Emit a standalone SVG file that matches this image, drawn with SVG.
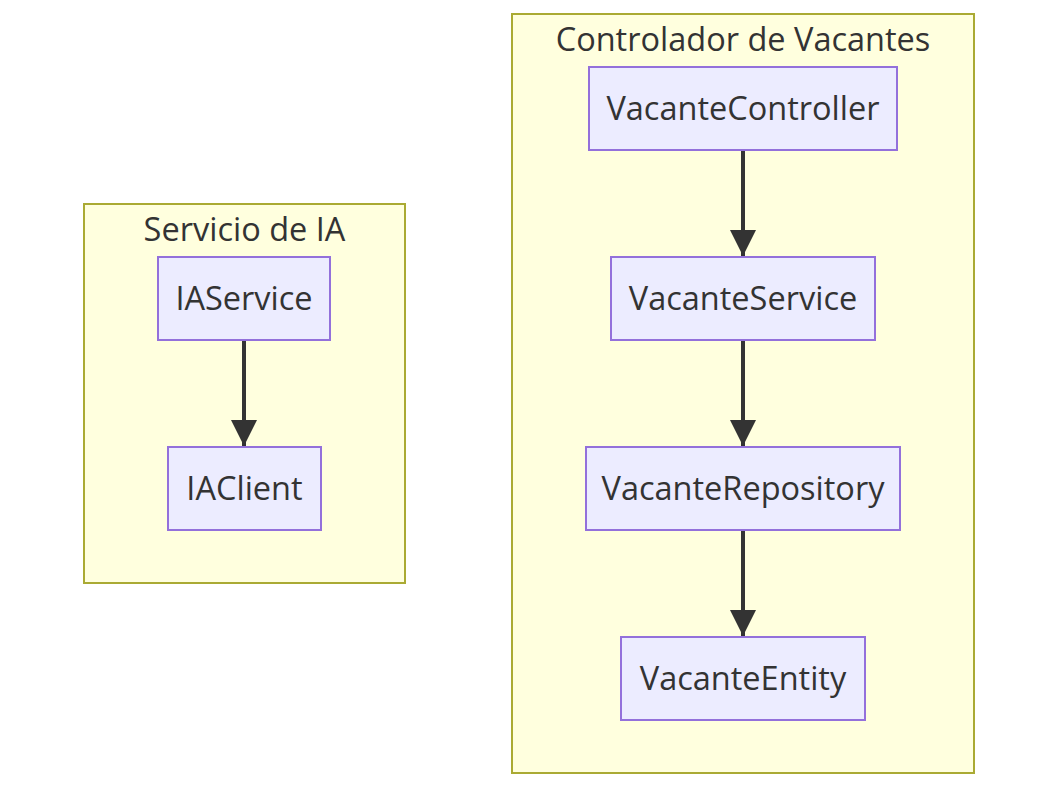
<svg xmlns="http://www.w3.org/2000/svg" width="1058" height="792" viewBox="0 0 1058 792">
<defs>
<style>
.cluster rect{fill:#ffffde;stroke:#aaaa33;stroke-width:2}
.node rect{fill:#ececff;stroke:#9370db;stroke-width:2}
text{font-family:"Open Sans","DejaVu Sans",sans-serif;font-size:32.5px;fill:#333333;text-anchor:middle;dominant-baseline:central}
.edge{stroke:#333333;stroke-width:4;fill:none}
</style>
<marker id="arrow" viewBox="0 0 10 10" refX="10" refY="5" markerUnits="userSpaceOnUse" markerWidth="26" markerHeight="26" orient="auto">
<path d="M0,0 L10,5 L0,10 z" fill="#333333"/>
</marker>
</defs>
<rect width="1058" height="792" fill="#ffffff"/>
<g id="cluster-ia" class="cluster">
<rect x="84" y="204" width="321" height="379"/>
<text x="244.5" y="228">Servicio de IA</text>
</g>
<g id="cluster-vacantes" class="cluster">
<rect x="512" y="14" width="462" height="759"/>
<text x="743" y="38">Controlador de Vacantes</text>
</g>
<g id="edges">
<path class="edge" d="M244,341 L244,446" marker-end="url(#arrow)"/>
<path class="edge" d="M743,151 L743,256" marker-end="url(#arrow)"/>
<path class="edge" d="M743,341 L743,446" marker-end="url(#arrow)"/>
<path class="edge" d="M743,531 L743,636" marker-end="url(#arrow)"/>
</g>
<g id="IAService" class="node">
<rect x="158" y="257" width="172" height="83"/>
<text x="244" y="297.5">IAService</text>
</g>
<g id="IAClient" class="node">
<rect x="168" y="447" width="153" height="83"/>
<text x="244.5" y="487.5">IAClient</text>
</g>
<g id="VacanteController" class="node">
<rect x="589" y="67" width="308" height="83"/>
<text x="743" y="107.5">VacanteController</text>
</g>
<g id="VacanteService" class="node">
<rect x="611" y="257" width="264" height="83"/>
<text x="743" y="297.5">VacanteService</text>
</g>
<g id="VacanteRepository" class="node">
<rect x="586" y="447" width="314" height="83"/>
<text x="743" y="487.5">VacanteRepository</text>
</g>
<g id="VacanteEntity" class="node">
<rect x="621" y="637" width="244" height="83"/>
<text x="743" y="677.5">VacanteEntity</text>
</g>
</svg>
